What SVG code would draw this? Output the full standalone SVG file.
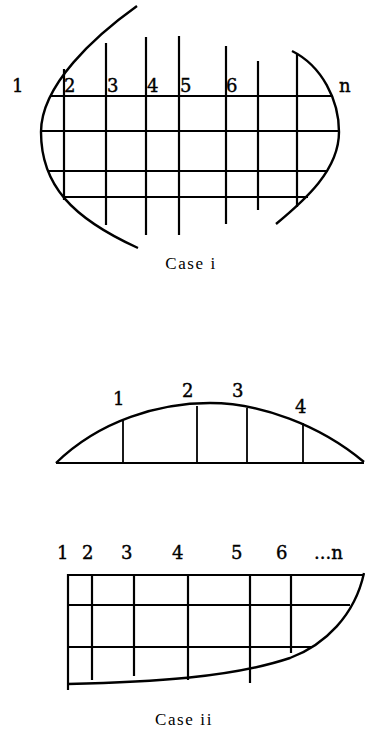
<svg xmlns="http://www.w3.org/2000/svg" width="365" height="729" viewBox="0 0 365 729">
<style>
.ln{stroke:#000;stroke-width:2.2;fill:none;stroke-linecap:butt}
.arc{stroke:#000;stroke-width:2.4;fill:none}
.thin{stroke:#000;stroke-width:1.8;fill:none}
.lbl{font-family:"DejaVu Serif","Liberation Serif",serif;font-size:18px;fill:#000;stroke:#000;stroke-width:0.4}
.cap{font-family:"Liberation Serif",serif;font-size:17px;fill:#000;letter-spacing:1.6px}
</style>
<rect width="365" height="729" fill="#fff"/>
<g id="case-i">
<path class="arc" d="M137,6 C95,36 41,85 41,132 C41,185 72,218 138,248"/>
<path class="arc" d="M292,51 C322,66 339,100 339,132 C339,170 305,200 276,224"/>
<g class="ln">
<line x1="50" y1="96" x2="333" y2="96"/>
<line x1="42" y1="131" x2="338" y2="131"/>
<line x1="49" y1="171" x2="328" y2="171"/>
<line x1="63" y1="197" x2="308" y2="197"/>
<line x1="64" y1="69" x2="64" y2="200"/>
<line x1="106" y1="43" x2="106" y2="225"/>
<line x1="146" y1="37" x2="146" y2="235"/>
<line x1="179" y1="36" x2="179" y2="235"/>
<line x1="226" y1="46" x2="226" y2="224"/>
<line x1="258" y1="61" x2="258" y2="210"/>
<line x1="297" y1="54" x2="297" y2="207"/>
</g>
<g class="lbl">
<text x="12" y="92">1</text>
<text x="64" y="92">2</text>
<text x="107" y="92">3</text>
<text x="147" y="92">4</text>
<text x="180" y="92">5</text>
<text x="226" y="92">6</text>
<text x="339" y="92">n</text>
</g>
<text class="cap" x="191" y="269" text-anchor="middle">Case i</text>
</g>
<g id="case-ii-top">
<path class="arc" d="M56,463 C100,420 160,403 210,403 C260,403 320,425 364,462"/>
<g class="thin">
<line x1="56" y1="463" x2="364" y2="463"/>
<line x1="123" y1="419" x2="123" y2="463"/>
<line x1="197" y1="406" x2="197" y2="463"/>
<line x1="247" y1="408" x2="247" y2="463"/>
<line x1="303" y1="423" x2="303" y2="463"/>
</g>
<g class="lbl">
<text x="113" y="405">1</text>
<text x="182" y="397">2</text>
<text x="232" y="397">3</text>
<text x="295" y="413">4</text>
</g>
</g>
<g id="case-ii-bottom">
<path class="arc" d="M68,684 C150,682 230,678 290,658 C325,645 355,615 364,573"/>
<g class="ln">
<line x1="68" y1="575" x2="364" y2="575"/>
<line x1="68" y1="605" x2="350" y2="605"/>
<line x1="68" y1="647" x2="312" y2="647"/>
<line x1="68" y1="574" x2="68" y2="690"/>
<line x1="92" y1="575" x2="92" y2="680"/>
<line x1="134" y1="575" x2="134" y2="676"/>
<line x1="188" y1="575" x2="188" y2="680"/>
<line x1="250" y1="575" x2="250" y2="683"/>
<line x1="291" y1="575" x2="291" y2="653"/>
</g>
<g class="lbl">
<text x="57" y="559">1</text>
<text x="82" y="559">2</text>
<text x="121" y="559">3</text>
<text x="172" y="559">4</text>
<text x="231" y="559">5</text>
<text x="276" y="559">6</text>
<text x="314" y="559">...n</text>
</g>
<text class="cap" x="184" y="725" text-anchor="middle">Case ii</text>
</g>
</svg>
